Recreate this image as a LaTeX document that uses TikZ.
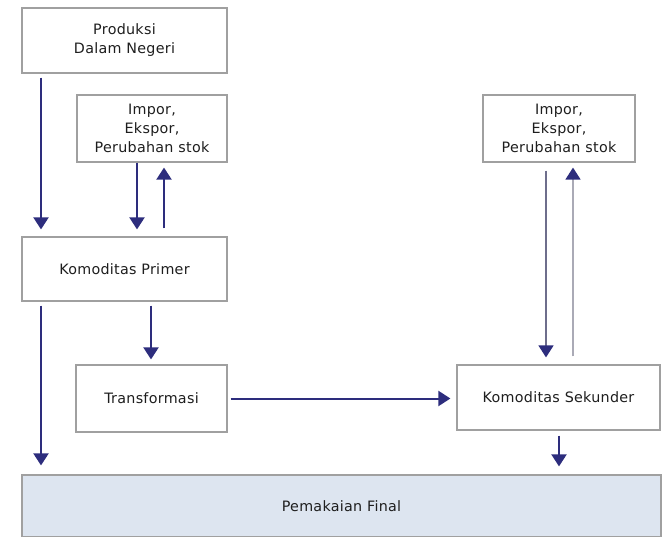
\documentclass[tikz,border=0pt]{standalone}
\usepackage{fontspec}
\setmainfont{DejaVu Sans}[LetterSpace=2]
\usetikzlibrary{arrows.meta}
\definecolor{navy}{RGB}{45,45,125}
\definecolor{boxline}{RGB}{160,160,160}
\definecolor{finalfill}{RGB}{221,229,240}
\definecolor{txt}{RGB}{30,30,30}
\definecolor{palearrow}{RGB}{170,170,182}
\definecolor{midarrow}{RGB}{110,110,140}
\begin{document}
\begin{tikzpicture}[x=1pt,y=-1pt,
  box/.style={draw=boxline,line width=1.2pt,fill=white,align=center,text=txt,
    font=\fontsize{14.3}{19}\selectfont,inner sep=0pt},
  arr/.style={draw=navy,line width=2pt,-{Triangle[length=12pt,width=15pt,color=navy]}},
  ]
\useasboundingbox[fill=white] (0,0) rectangle (666,537);
\node[box,minimum width=205pt,minimum height=65pt] (prod) at (124.5,40.5) {Produksi\\Dalam Negeri};
\node[box,minimum width=150pt,minimum height=67pt] (imp1) at (152,128.5) {Impor,\\Ekspor,\\Perubahan stok};
\node[box,minimum width=205pt,minimum height=64pt] (prim) at (124.5,269) {Komoditas Primer};
\node[box,minimum width=151pt,minimum height=67pt] (trans) at (151.5,398.5) {Transformasi};
\node[box,minimum width=203pt,minimum height=65pt] (sek) at (558.5,397.5) {Komoditas Sekunder};
\node[box,minimum width=152pt,minimum height=67pt] (imp2) at (559,128.5) {Impor,\\Ekspor,\\Perubahan stok};
\node[box,fill=finalfill,minimum width=639pt,minimum height=62pt] (final) at (341.5,506) {Pemakaian Final};

\draw[arr,shorten <=4pt,shorten >=7pt] (prod.south -| 41,0) -- (prim.north -| 41,0);
\draw[arr,shorten >=7pt] (imp1.south -| 137,0) -- (prim.north -| 137,0);
\draw[arr,shorten <=8pt,shorten >=5pt] (prim.north -| 164,0) -- (imp1.south -| 164,0);
\draw[arr,shorten <=4pt,shorten >=5pt] (prim.south -| 151,0) -- (trans.north -| 151,0);
\draw[arr,shorten <=4pt,shorten >=9pt] (prim.south -| 41,0) -- (final.north -| 41,0);
\draw[arr,shorten <=3pt,shorten >=6pt] (trans.east) -- (sek.west |- trans.east);
\draw[arr,draw=midarrow,line width=1.5pt,shorten <=8pt,shorten >=7pt] (imp2.south -| 546,0) -- (sek.north -| 546,0);
\draw[arr,draw=palearrow,line width=1.5pt,shorten <=8pt,shorten >=5pt] (sek.north -| 573,0) -- (imp2.south -| 573,0);
\draw[arr,shorten <=5pt,shorten >=8pt] (sek.south -| 559,0) -- (final.north -| 559,0);
\end{tikzpicture}
\end{document}
